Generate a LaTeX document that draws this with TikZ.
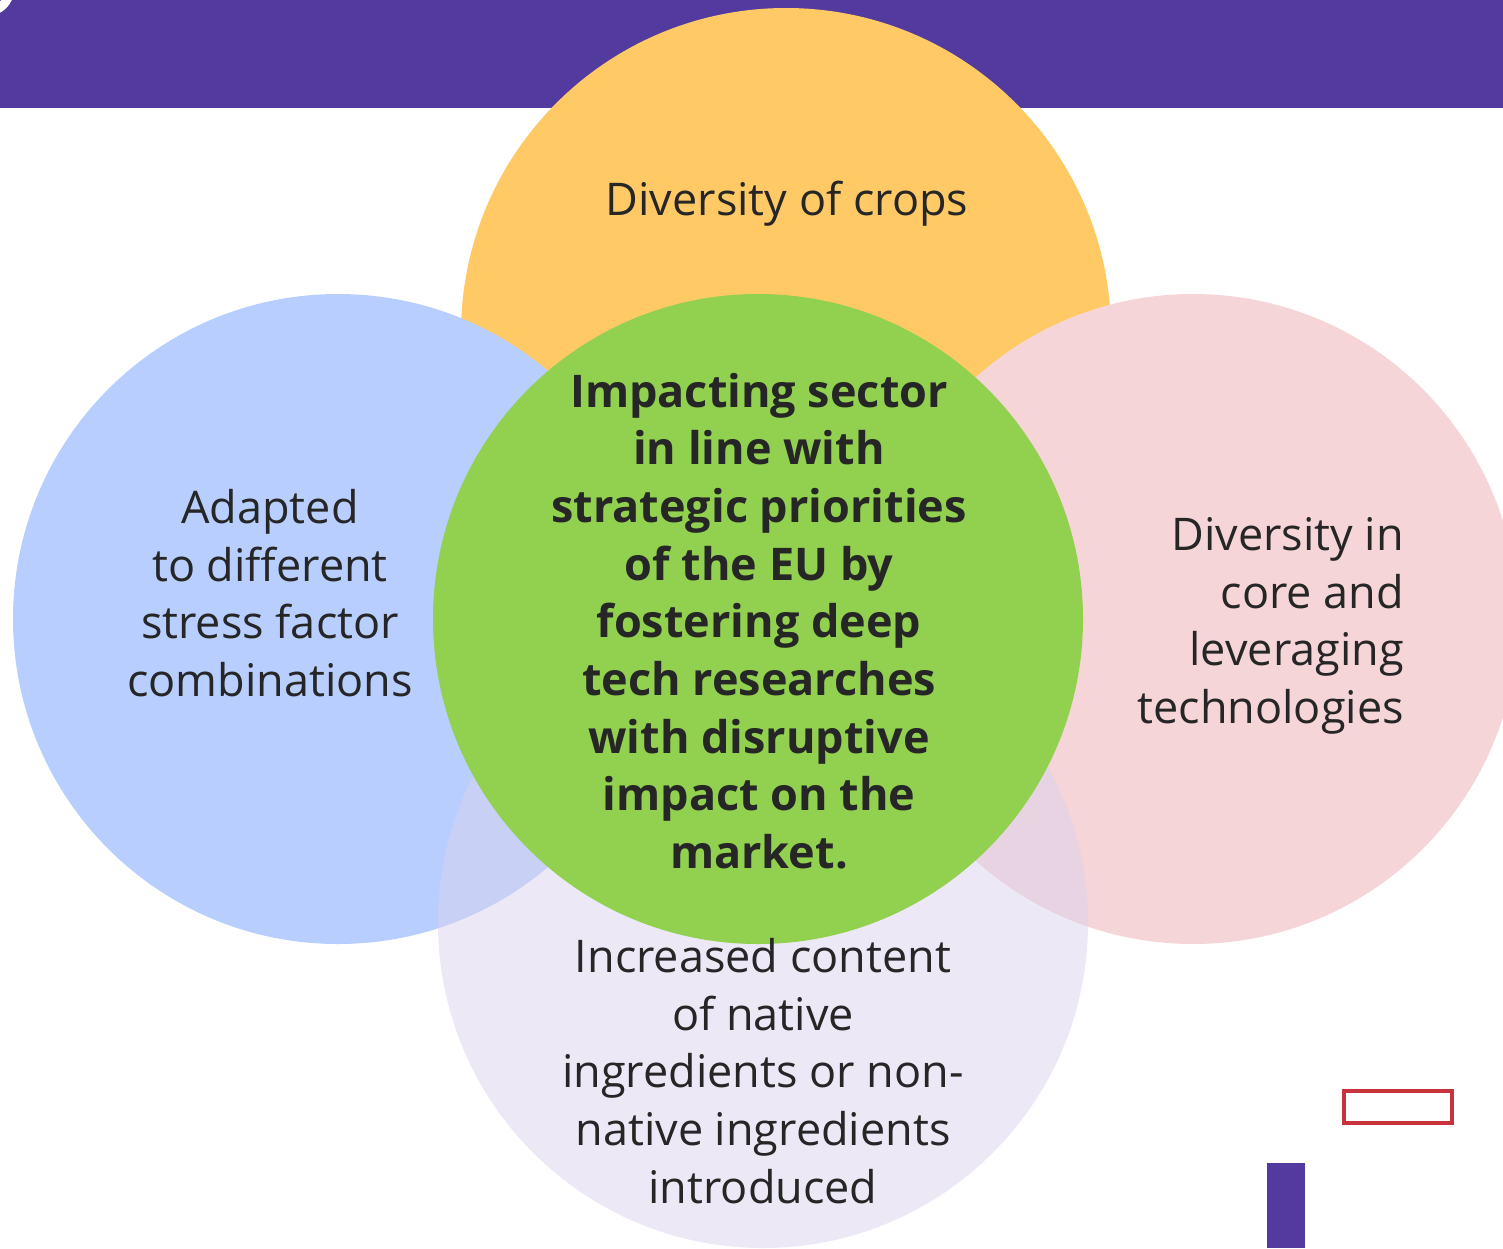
\documentclass[tikz,border=0pt]{standalone}
\usepackage{fontspec}
\setmainfont{Open Sans}
\definecolor{band}{HTML}{523A9E}
\definecolor{cyellow}{HTML}{FFCA66}
\definecolor{cblue}{HTML}{B7CEFF}
\definecolor{cpink}{HTML}{F5D5D8}
\definecolor{clav}{RGB}{218,210,237}
\definecolor{cgreen}{HTML}{92D050}
\definecolor{ctext}{HTML}{262626}
\definecolor{cred}{HTML}{C8323A}
\tikzset{
  venn/.style={circle, minimum size=650pt, inner sep=0pt, draw=none},
  lbl/.style={text=ctext, font=\fontsize{45}{57.7}\selectfont, inner sep=0pt},
  blbl/.style={text=ctext, font=\fontsize{45}{57.7}\selectfont\bfseries, inner sep=0pt, align=center},
}
\begin{document}
\begin{tikzpicture}[x=1pt,y=-1pt]
\useasboundingbox (0,0) rectangle (1503,1248);
\clip (0,0) rectangle (1503,1248);
\fill[band] (0,0) rectangle (1503,108);
\draw[white, line width=9pt] (-14,-12) circle[radius=24pt];
\node[venn, fill=cyellow] (top) at (786,333) {};
\node[venn, fill=cblue] (left) at (338,619) {};
\node[venn, fill=cpink] (right) at (1193,619) {};
\node[venn, fill=clav, fill opacity=0.5] (bottom) at (763,923) {};
\node[venn, fill=cgreen] (center) at (758,619) {};
\node[lbl] (ttop) at (787,204) {Diversity of crops};
\node[lbl, align=center] (tleft) at (270,593) {Adapted\\to different\\stress factor\\combinations};
\node[lbl, align=right, anchor=east] (tright) at (1404,626) {Diversity in\\core and\\leveraging\\technologies};
\node[blbl] (tcenter) at (759,621) {Impacting sector\\in line with\\strategic priorities\\of the EU by\\fostering deep\\tech researches\\with disruptive\\impact on the\\market.};
\node[lbl, align=center] (tbottom) at (763,1071) {Increased content\\of native\\ingredients or non-\\native ingredients\\introduced};
\node[draw=cred, line width=4pt, minimum width=108pt, minimum height=32pt, inner sep=0pt] (redbox) at (1398,1106.5) {};
\fill[band] (1267,1163) rectangle (1305,1248);
\end{tikzpicture}
\end{document}
